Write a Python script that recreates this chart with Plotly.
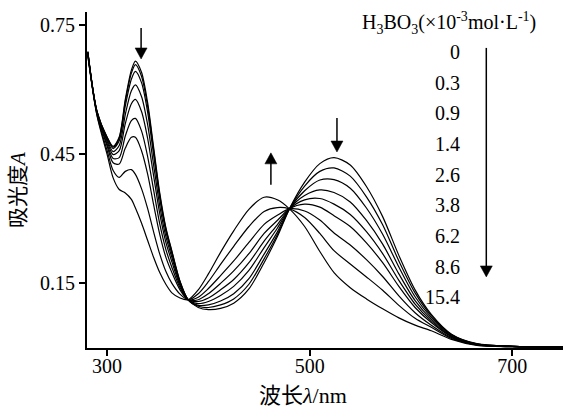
import plotly.graph_objects as go

# Absorption spectra of the dye solution with increasing H3BO3 concentration
wavelength_nm = [281, 290, 300, 306, 312, 318, 324, 328, 334, 340,
                 346, 352, 358, 364, 372, 380, 390, 400, 412, 425,
                 440, 455, 468, 480, 495, 510, 524, 540, 556, 572,
                 588, 604, 620, 640, 665, 700, 750]

abs_c0_0 = [.688, .550, .490, .468, .490, .577, .645, .666, .640, .570,
            .465, .360, .280, .225, .155, .112, .094, .089, .092, .104,
            .137, .198, .258, .323, .385, .428, .442, .425, .375, .305,
            .215, .135, .078, .032, .010, .004, .003]
abs_c0_3 = [.688, .550, .489, .466, .487, .572, .638, .658, .631, .562,
            .459, .355, .277, .223, .154, .112, .097, .094, .100, .114,
            .148, .207, .263, .323, .376, .410, .418, .399, .351, .286,
            .202, .128, .075, .031, .0096, .004, .003]
abs_c0_9 = [.687, .549, .487, .463, .481, .562, .624, .642, .616, .548,
            .447, .347, .271, .218, .152, .112, .099, .100, .109, .126,
            .161, .218, .269, .323, .365, .390, .391, .371, .325, .264,
            .188, .119, .071, .030, .009, .004, .003]
abs_c1_4 = [.686, .548, .484, .456, .470, .542, .597, .611, .584, .519,
            .424, .330, .259, .210, .149, .112, .103, .108, .122, .143,
            .180, .233, .278, .323, .354, .367, .361, .339, .296, .241,
            .172, .110, .067, .028, .009, .004, .003]
abs_c2_6 = [.685, .547, .480, .449, .458, .521, .567, .577, .549, .487,
            .399, .312, .246, .200, .145, .112, .108, .116, .135, .159,
            .198, .248, .286, .323, .344, .347, .334, .310, .270, .219,
            .157, .102, .063, .027, .008, .004, .003]
abs_c3_8 = [.684, .546, .474, .440, .442, .492, .528, .533, .504, .445,
            .366, .288, .229, .187, .140, .112, .112, .126, .150, .179,
            .219, .266, .296, .323, .334, .327, .307, .282, .244, .198,
            .143, .094, .059, .026, .008, .004, .003]
abs_c6_2 = [.683, .545, .469, .430, .427, .464, .489, .489, .458, .404,
            .332, .264, .211, .175, .135, .112, .118, .138, .168, .202,
            .245, .287, .308, .323, .318, .297, .267, .239, .205, .166,
            .121, .082, .053, .024, .007, .003, .002]
abs_c8_6 = [.680, .542, .459, .412, .396, .410, .414, .403, .370, .324,
            .269, .218, .178, .150, .125, .112, .126, .154, .194, .236,
            .282, .317, .326, .323, .303, .266, .226, .195, .165, .134,
            .099, .069, .048, .022, .007, .003, .002]
abs_c15_4 = [.678, .540, .450, .395, .368, .360, .345, .325, .290, .250,
             .210, .175, .148, .128, .116, .112, .135, .172, .222, .272,
             .322, .350, .344, .323, .282, .224, .175, .140, .114, .091,
             .070, .053, .040, .020, .006, .003, .002]

conc_labels = ["0", "0.3", "0.9", "1.4", "2.6", "3.8", "6.2", "8.6", "15.4"]
spectra = [abs_c0_0, abs_c0_3, abs_c0_9, abs_c1_4, abs_c2_6,
           abs_c3_8, abs_c6_2, abs_c8_6, abs_c15_4]

x_ticks = [300, 500, 700]
y_ticks = [0.15, 0.45, 0.75]
y_ticktext = ["0.15", "0.45", "0.75"]

SERIF = "'Liberation Serif', 'Times New Roman', 'Noto Sans CJK SC', serif"

fig = go.Figure()
for label, values in zip(conc_labels, spectra):
    fig.add_trace(go.Scatter(
        x=wavelength_nm, y=values, mode="lines", name=label,
        line=dict(color="black", width=1.2, shape="spline", smoothing=0.8),
        hoverinfo="skip",
    ))

W, H = 563, 408
ML, MR, MT, MB = 87, 0, 12, 60
PW, PH = W - ML - MR, H - MT - MB


def px_to_paper(px, py):
    return (px - ML) / PW, (H - MB - py) / PH


annotations = []

# concentration list on the right
for i, lab in enumerate(conc_labels):
    px, py = px_to_paper(462, 52 + 30.65 * i)
    annotations.append(dict(
        text=lab, xref="paper", yref="paper", x=px, y=py,
        xanchor="right", yanchor="middle", showarrow=False,
        font=dict(family=SERIF, size=20, color="black"),
    ))

tx, ty = px_to_paper(360, 23)
annotations.append(dict(
    text="H<sub>3</sub>BO<sub>3</sub>(×10<sup>-3</sup>mol·L<sup>-1</sup>)",
    xref="paper", yref="paper", x=tx, y=ty, xanchor="left", yanchor="middle",
    showarrow=False, font=dict(family=SERIF, size=20, color="black"),
))

# axis titles
xt, yt = px_to_paper(303, 395)
annotations.append(dict(
    text="波长<i>λ</i>/nm", xref="paper", yref="paper", x=xt, y=yt,
    xanchor="center", yanchor="middle", showarrow=False,
    font=dict(family=SERIF, size=22, color="black"),
))
xt, yt = px_to_paper(18, 190)
annotations.append(dict(
    text="吸光度<i>A</i>", xref="paper", yref="paper", x=xt, y=yt,
    xanchor="center", yanchor="middle", textangle=-90, showarrow=False,
    font=dict(family=SERIF, size=21, color="black"),
))

# arrows showing the direction of change: tip anchored at (wavelength, A),
# shaft length in pixels (positive = tail above the tip)
arrows = [(333.6, 0.671, 31), (461.7, 0.453, -32),
          (526.9, 0.455, 34), (674.3, 0.165, 229)]
HEAD_W, HEAD_L = 6, 11
shapes = []
for ax_x, ax_y, length in arrows:
    s = 1 if length > 0 else -1
    common = dict(xref="x", yref="y", xsizemode="pixel", ysizemode="pixel",
                  xanchor=ax_x, yanchor=ax_y)
    shapes.append(dict(
        common, type="path",
        path=f"M0,{s * (HEAD_L - 2)} L0,{length}",
        line=dict(color="black", width=1.5),
    ))
    shapes.append(dict(
        common, type="path",
        path=f"M0,0 L{-HEAD_W},{s * HEAD_L} L{HEAD_W},{s * HEAD_L} Z",
        fillcolor="black", line=dict(color="black", width=0.5),
    ))

axis_common = dict(
    showline=True, linewidth=2, linecolor="black", showgrid=False,
    zeroline=False, ticks="outside", ticklen=6, tickwidth=2,
    tickcolor="black", tickfont=dict(family=SERIF, size=20, color="black"),
)

fig.update_layout(
    width=W, height=H,
    margin=dict(l=ML, r=MR, t=MT, b=MB),
    plot_bgcolor="white", paper_bgcolor="white",
    showlegend=False,
    xaxis=dict(axis_common, range=[280.2, 750], tickvals=x_ticks,
               ticklabelstandoff=-7),
    yaxis=dict(axis_common, range=[0, 0.78], tickvals=y_ticks,
               ticktext=y_ticktext),
    annotations=annotations,
    shapes=shapes,
)

fig.write_html("out.html")
